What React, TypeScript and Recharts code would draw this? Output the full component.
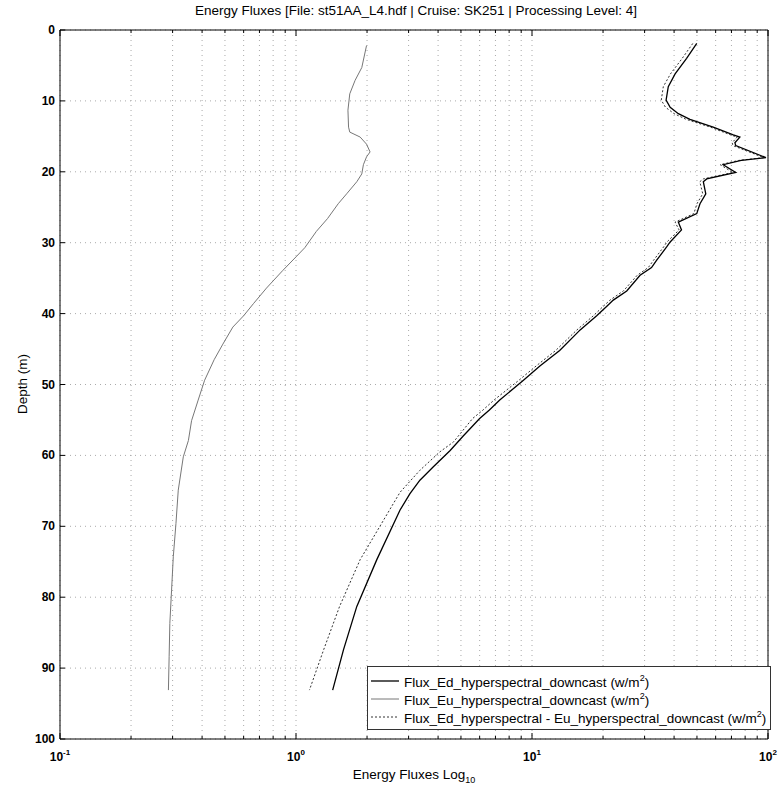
import React from 'react';
import { LineChart, Line, XAxis, YAxis, CartesianGrid } from 'recharts';

// Ed (downwelling) profile
const edDepth = [1.9, 4.0, 6.2, 8.0, 9.9, 10.9, 11.8, 12.6, 13.7, 14.8, 15.1, 15.9, 16.3, 18.0, 18.4, 19.0, 20.1, 21.0, 21.4, 23.1, 24.5, 25.9, 27.1, 28.2, 29.9, 30.6, 32.5, 33.5, 34.6, 36.8, 38.1, 39.0, 40.3, 42.3, 45.2, 47.4, 49.4, 52.2, 53.6, 54.8, 57.3, 59.3, 61.6, 63.5, 65.4, 67.7, 74.7, 81.3, 87.4, 93.1];
const edFlux = [49.9, 45.2, 40.4, 37.8, 37.0, 38.5, 41.7, 46.7, 58.6, 71.3, 76, 72.4, 73, 98, 77, 64.6, 73, 55, 53.2, 54.5, 51.5, 49.9, 41.7, 43, 38.5, 37.2, 33.7, 32.1, 28.7, 25.2, 22.1, 20.7, 18.8, 16.0, 13.1, 10.8, 9.2, 7.3, 6.6, 6.0, 5.1, 4.5, 3.82, 3.35, 3.04, 2.76, 2.2, 1.81, 1.59, 1.43];

// Eu (upwelling) profile
const euDepth = [2.2, 5.3, 7.1, 9.0, 11.3, 13.7, 14.4, 15.1, 16.1, 17.2, 17.9, 19.0, 20.3, 21.4, 23.1, 24.5, 26.6, 28.4, 30.7, 32.0, 33.9, 36.4, 38.6, 40.3, 41.9, 44.3, 46.5, 49.4, 52.2, 55.1, 57.9, 60.2, 64.9, 69.6, 74.3, 79.0, 83.7, 88.4, 93.1];
const euFlux = [1.99, 1.90, 1.78, 1.69, 1.66, 1.67, 1.69, 1.87, 1.99, 2.06, 1.99, 1.93, 1.90, 1.81, 1.64, 1.51, 1.36, 1.22, 1.09, 1.0, 0.88, 0.75, 0.66, 0.60, 0.54, 0.49, 0.45, 0.41, 0.385, 0.361, 0.35, 0.333, 0.317, 0.31, 0.302, 0.297, 0.292, 0.29, 0.288];

// Ed - Eu (net) profile
const netDepth = [1.9, 4.0, 6.2, 8.0, 9.9, 10.9, 11.8, 12.6, 13.7, 14.8, 15.1, 15.9, 16.3, 18.0, 18.4, 19.0, 20.1, 21.0, 21.4, 23.1, 24.5, 25.9, 27.1, 28.2, 29.9, 30.6, 32.5, 33.5, 34.6, 36.8, 38.1, 39.0, 40.3, 42.3, 45.2, 47.4, 49.4, 52.2, 53.6, 54.8, 58.1, 59.5, 62.1, 65.2, 74.7, 81.3, 87.4, 93.1];
const netFlux = [48, 43.3, 38.6, 36.0, 35.3, 36.8, 40.0, 45.0, 57, 69.5, 74, 70.5, 71, 96, 75, 62.7, 71, 53.2, 51.4, 52.9, 50, 48.5, 40.4, 42, 37.3, 36.1, 32.7, 31.1, 27.9, 24.4, 21.4, 20.0, 18.2, 15.5, 12.6, 10.4, 8.8, 6.9, 6.2, 5.6, 4.65, 4.07, 3.35, 2.76, 1.87, 1.53, 1.31, 1.14];

const xTicks = [0.1, 0.2, 0.3, 0.4, 0.5, 0.6, 0.7, 0.8, 0.9, 1, 2, 3, 4, 5, 6, 7, 8, 9, 10, 20, 30, 40, 50, 60, 70, 80, 90, 100];
const depthTicks = [0, 10, 20, 30, 40, 50, 60, 70, 80, 90, 100];

const legendLabels = ['Flux_Ed_hyperspectral_downcast', 'Flux_Eu_hyperspectral_downcast', 'Flux_Ed_hyperspectral - Eu_hyperspectral_downcast'];

const toRows = (d: number[], f: number[]) => d.map((depth, i) => ({ depth, flux: f[i] }));
const edRows = toRows(edDepth, edFlux);
const euRows = toRows(euDepth, euFlux);
const netRows = toRows(netDepth, netFlux);

const FONT = '"Liberation Sans", Arial, sans-serif';
const W = 782;
const H = 789;

const decadeExp = (v: number) => {
  const l = Math.log10(v);
  return Math.abs(l - Math.round(l)) < 1e-6 ? Math.round(l) : null;
};

const BottomTick = (props: any) => {
  const { x, y, payload } = props;
  const exp = decadeExp(payload.value);
  return (
    <g>
      <line x1={x} x2={x} y1={y} y2={y - (exp !== null ? 6 : 3)} stroke="#000" />
      {exp !== null && (
        <text x={x} y={y + 22} textAnchor="middle" fontSize={12} fontWeight="bold" fontFamily={FONT} fill="#000">
          10<tspan dy={-6} fontSize={8}>{exp}</tspan>
        </text>
      )}
    </g>
  );
};

const TopTick = (props: any) => {
  const { x, y, payload } = props;
  const major = decadeExp(payload.value) !== null;
  return <line x1={x} x2={x} y1={y} y2={y + (major ? 6 : 3)} stroke="#000" />;
};

const LeftTick = (props: any) => {
  const { x, y, payload } = props;
  return (
    <g>
      <line x1={x} x2={x + 5} y1={y} y2={y} stroke="#000" />
      <text x={x - 5} y={y} dy={4} textAnchor="end" fontSize={12} fontWeight="bold" fontFamily={FONT} fill="#000">
        {payload.value}
      </text>
    </g>
  );
};

const RightTick = (props: any) => {
  const { x, y } = props;
  return <line x1={x} x2={x - 5} y1={y} y2={y} stroke="#000" />;
};

const legendStyles = [
  { stroke: '#000', dash: undefined, width: 1.3 },
  { stroke: '#777', dash: undefined, width: 1 },
  { stroke: '#333', dash: '2 2', width: 1 },
];

export default function App() {
  return (
    <div style={{ position: 'absolute', left: 0, top: 0, width: W, height: H, background: '#fff', fontFamily: FONT }}>
      <LineChart width={W} height={H} layout="vertical" margin={{ top: 0, right: 0, bottom: 0, left: 0 }}>
        <CartesianGrid stroke="#aaa" strokeDasharray="1 4" />
        <XAxis
          type="number"
          scale="log"
          domain={[0.1, 100]}
          allowDataOverflow
          ticks={xTicks}
          interval={0}
          height={50}
          tickSize={0}
          tickMargin={0}
          tickLine={false}
          axisLine={{ stroke: '#000' }}
          tick={<BottomTick />}
        />
        <XAxis
          xAxisId="t"
          orientation="top"
          type="number"
          scale="log"
          domain={[0.1, 100]}
          allowDataOverflow
          ticks={xTicks}
          interval={0}
          height={30}
          tickSize={0}
          tickMargin={0}
          tickLine={false}
          axisLine={{ stroke: '#000' }}
          tick={<TopTick />}
        />
        <YAxis
          type="number"
          dataKey="depth"
          domain={[0, 100]}
          ticks={depthTicks}
          interval={0}
          width={60}
          tickSize={0}
          tickMargin={0}
          tickLine={false}
          axisLine={{ stroke: '#000' }}
          tick={<LeftTick />}
        />
        <YAxis
          yAxisId="r"
          orientation="right"
          type="number"
          domain={[0, 100]}
          ticks={depthTicks}
          interval={0}
          width={14}
          tickSize={0}
          tickMargin={0}
          tickLine={false}
          axisLine={{ stroke: '#000' }}
          tick={<RightTick />}
        />
        <Line data={euRows} dataKey="flux" stroke="#777" strokeWidth={1} dot={false} isAnimationActive={false} />
        <Line data={netRows} dataKey="flux" stroke="#333" strokeWidth={1} strokeDasharray="2 2" dot={false} isAnimationActive={false} />
        <Line data={edRows} dataKey="flux" stroke="#000" strokeWidth={1.3} dot={false} isAnimationActive={false} />
      </LineChart>

      <div style={{ position: 'absolute', left: 416, top: 3, transform: 'translateX(-50%)', whiteSpace: 'nowrap', fontSize: 13.5 }}>
        Energy Fluxes [File: st51AA_L4.hdf | Cruise: SK251 | Processing Level: 4]
      </div>
      <div style={{ position: 'absolute', left: 22, top: 384, transform: 'translate(-50%, -50%) rotate(-90deg)', whiteSpace: 'nowrap', fontSize: 13.5 }}>
        Depth (m)
      </div>
      <div style={{ position: 'absolute', left: 414, top: 767, transform: 'translateX(-50%)', whiteSpace: 'nowrap', fontSize: 13.5 }}>
        Energy Fluxes Log<sub style={{ fontSize: 9 }}>10</sub>
      </div>

      <div style={{ position: 'absolute', left: 367, top: 666, width: 404, height: 64, border: '1px solid #333', background: '#fff', fontSize: 13.5, paddingTop: 5, boxSizing: 'border-box' }}>
        {legendLabels.map((label, i) => (
          <div key={label} style={{ display: 'flex', alignItems: 'center', height: 18, whiteSpace: 'nowrap' }}>
            <svg width={36} height={10} style={{ flex: 'none' }}>
              <line x1={3} x2={31} y1={5} y2={5} stroke={legendStyles[i].stroke} strokeWidth={legendStyles[i].width} strokeDasharray={legendStyles[i].dash} />
            </svg>
            <span>
              {label} (w/m<sup style={{ fontSize: 9 }}>2</sup>)
            </span>
          </div>
        ))}
      </div>
    </div>
  );
}
